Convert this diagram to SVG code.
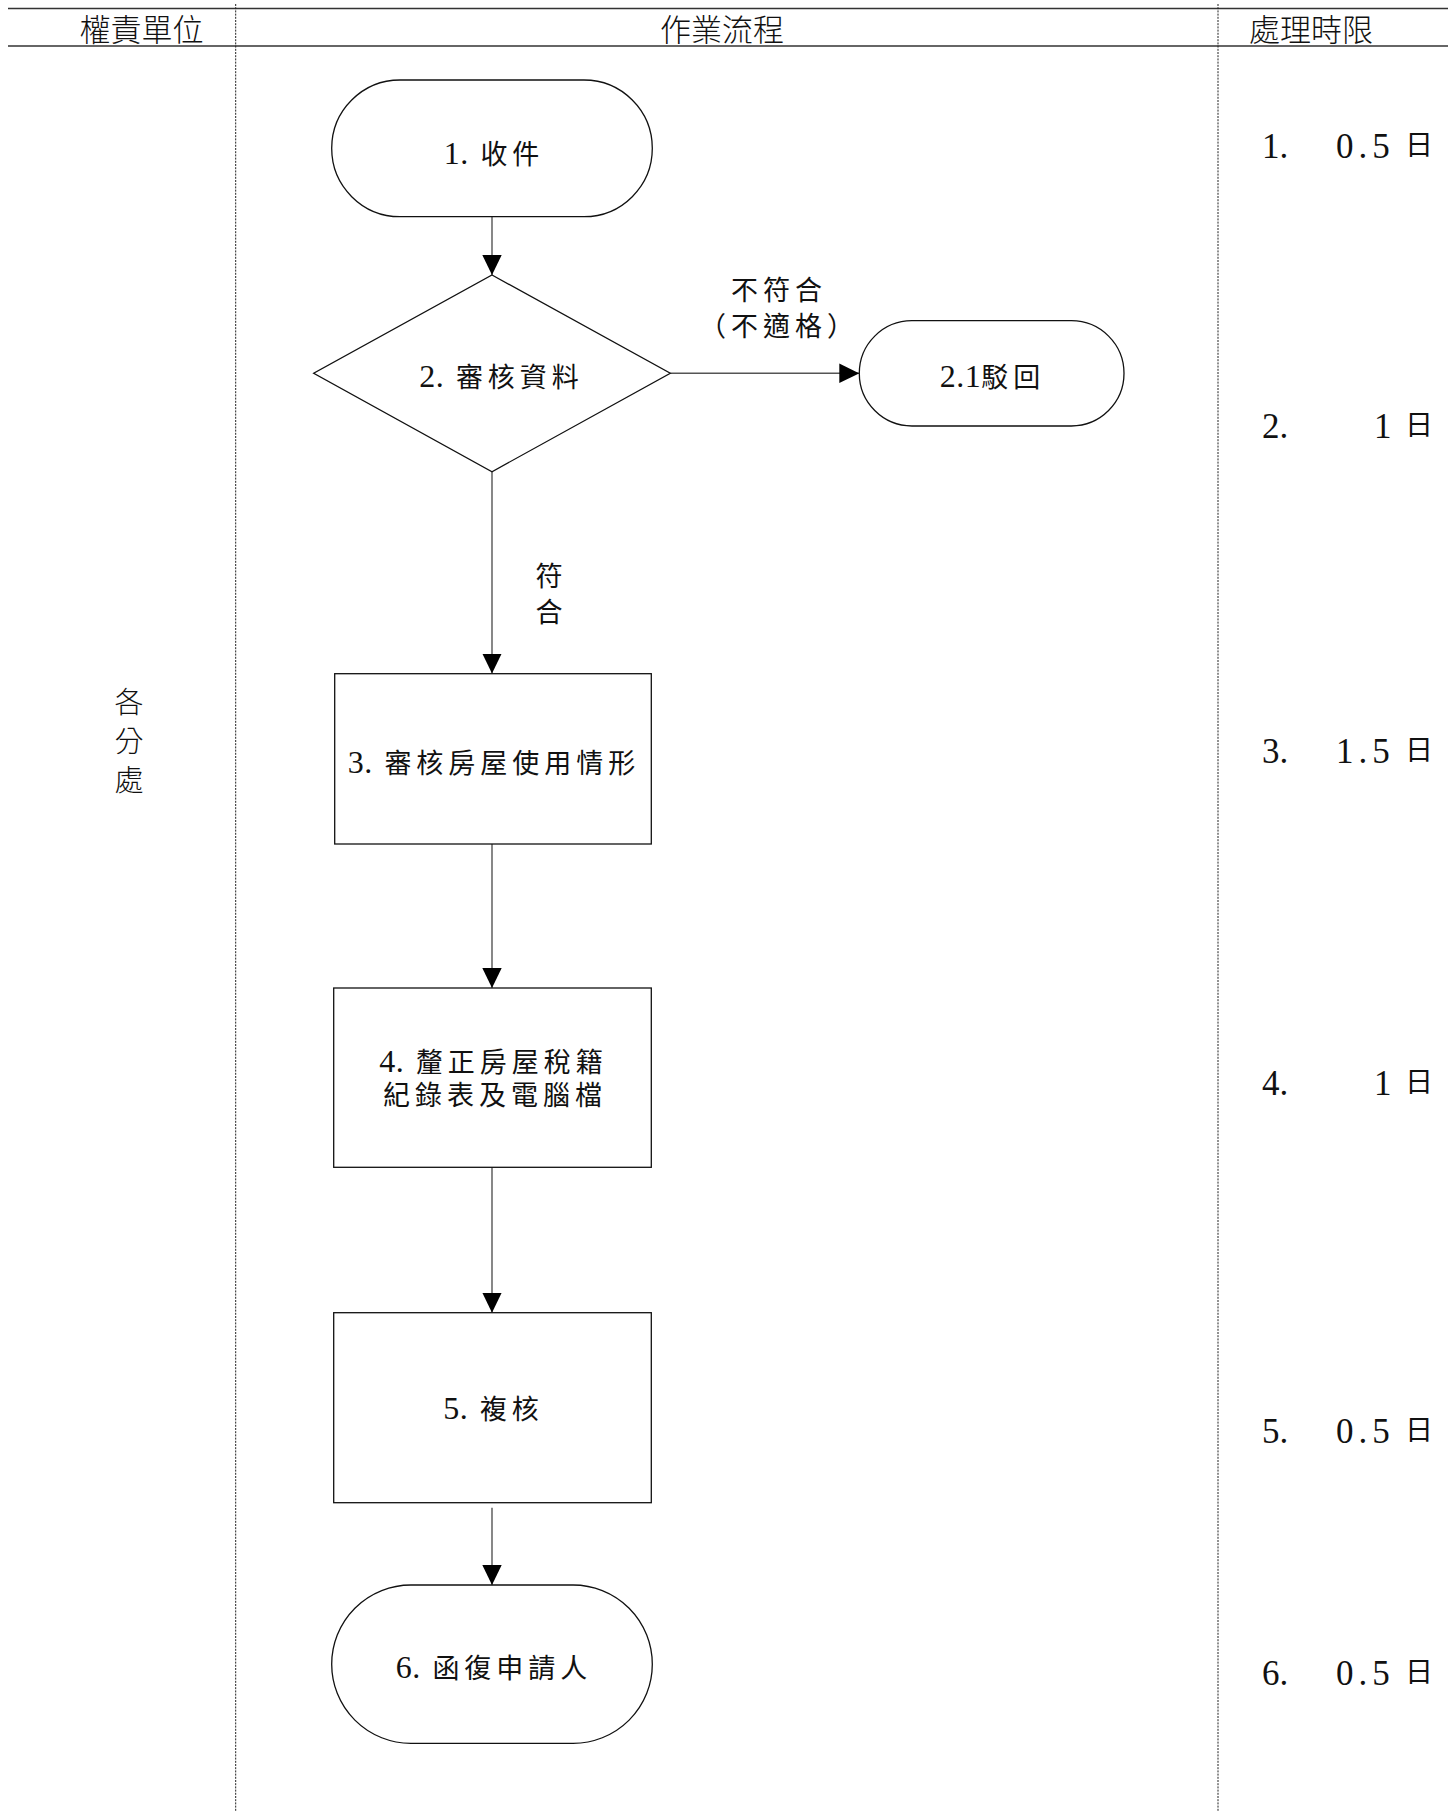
<svg xmlns="http://www.w3.org/2000/svg" width="1456" height="1811" viewBox="0 0 1456 1811">
<style>
.bg{fill:#fff}
.hline{stroke:#333;stroke-width:1.6;fill:none}
.dash{stroke:#222;stroke-width:1;stroke-dasharray:2 1.2;fill:none}
.shape{fill:#fff;stroke:#111;stroke-width:1.3}
.conn{stroke:#555;stroke-width:1.4;fill:none}
.hd{font-family:"Noto Sans CJK TC","Noto Sans CJK SC",sans-serif;font-size:31px;font-weight:300;fill:#111;text-anchor:middle}
.lane{font-family:"Noto Sans CJK TC","Noto Sans CJK SC",sans-serif;font-size:29px;font-weight:300;fill:#111;text-anchor:middle}
.t{font-family:"Liberation Serif","Noto Sans CJK TC","Noto Sans CJK SC",serif;font-size:27px;letter-spacing:5px;fill:#111;text-anchor:middle}
.d{font-family:"Liberation Serif",serif;font-size:32px;letter-spacing:0.5px}
.num{font-family:"Liberation Serif",serif;font-size:35px;fill:#111}
.val{font-family:"Liberation Serif",serif;font-size:35px;letter-spacing:5px;fill:#111}
.day{font-family:"Noto Sans CJK TC","Noto Sans CJK SC",sans-serif;font-size:28px;fill:#111}
</style>
<defs>
<marker id="arr" viewBox="0 0 20 20" markerWidth="20" markerHeight="20" refX="20" refY="10" orient="auto" markerUnits="userSpaceOnUse">
<path d="M0,0.3 L20,10 L0,19.7 Z" fill="#000"/>
</marker>
</defs>
<rect class="bg" x="0" y="0" width="1456" height="1811"/>
<g id="frame">
<line class="hline" x1="8" y1="8.5" x2="1448" y2="8.5"/>
<line class="hline" x1="8" y1="46" x2="1448" y2="46"/>
<line class="dash" x1="235.7" y1="4" x2="235.7" y2="1811"/>
<line class="dash" x1="1218" y1="4" x2="1218" y2="1811"/>
<text class="hd" x="141.5" y="41">權責單位</text>
<text class="hd" x="722" y="41">作業流程</text>
<text class="hd" x="1311" y="41">處理時限</text>
</g>
<g id="lane-label">
<text class="lane" x="129" y="713">各</text>
<text class="lane" x="129" y="752">分</text>
<text class="lane" x="129" y="791">處</text>
</g>
<g id="connectors">
<line class="conn" x1="492" y1="216.7" x2="492" y2="275" marker-end="url(#arr)"/>
<line class="conn" x1="670.3" y1="373.3" x2="859.3" y2="373.3" marker-end="url(#arr)"/>
<line class="conn" x1="492" y1="471.7" x2="492" y2="673.5" marker-end="url(#arr)"/>
<line class="conn" x1="492" y1="844" x2="492" y2="988" marker-end="url(#arr)"/>
<line class="conn" x1="492" y1="1167.3" x2="492" y2="1312.7" marker-end="url(#arr)"/>
<line class="conn" x1="492" y1="1507.7" x2="492" y2="1585" marker-end="url(#arr)"/>
<text class="t" x="779" y="300">不符合</text>
<text class="t" x="779" y="336">（不適格）</text>
<text class="t" x="551.5" y="586">符</text>
<text class="t" x="551.5" y="622">合</text>
</g>
<g id="n1">
<rect class="shape" x="331.7" y="80" width="320.6" height="136.7" rx="68.35" ry="68.35"/>
<text class="t" x="494" y="164"><tspan class="d">1.</tspan> 收件</text>
</g>
<g id="n2">
<polygon class="shape" points="492,275 670.3,373.3 492,471.7 313.7,373.3"/>
<text class="t" x="501.5" y="387"><tspan class="d">2.</tspan> 審核資料</text>
</g>
<g id="n2-1">
<rect class="shape" x="859.3" y="320.7" width="264.7" height="105.3" rx="52.65" ry="52.65"/>
<text class="t" x="992.5" y="387"><tspan class="d">2.1</tspan>駁回</text>
</g>
<g id="n3">
<rect class="shape" x="334.7" y="673.7" width="316.6" height="170.3"/>
<text class="t" x="494" y="773"><tspan class="d">3.</tspan> 審核房屋使用情形</text>
</g>
<g id="n4">
<rect class="shape" x="333.7" y="988" width="317.6" height="179.3"/>
<text class="t" x="493.5" y="1072"><tspan class="d">4.</tspan> 釐正房屋稅籍</text>
<text class="t" x="495" y="1105">紀錄表及電腦檔</text>
</g>
<g id="n5">
<rect class="shape" x="333.7" y="1312.7" width="317.6" height="190"/>
<text class="t" x="493.5" y="1419"><tspan class="d">5.</tspan> 複核</text>
</g>
<g id="n6">
<rect class="shape" x="331.7" y="1585" width="320.6" height="158.3" rx="79.15" ry="79.15"/>
<text class="t" x="494" y="1678"><tspan class="d">6.</tspan> 函復申請人</text>
</g>
<g id="times">
<text class="num" x="1262" y="158">1.</text><text class="val" x="1336" y="158">0.5</text><text class="day" x="1405" y="155">日</text>
<text class="num" x="1262" y="438">2.</text><text class="val" x="1374" y="438">1</text><text class="day" x="1405" y="435">日</text>
<text class="num" x="1262" y="763">3.</text><text class="val" x="1336" y="763">1.5</text><text class="day" x="1405" y="760">日</text>
<text class="num" x="1262" y="1095">4.</text><text class="val" x="1374" y="1095">1</text><text class="day" x="1405" y="1092">日</text>
<text class="num" x="1262" y="1443">5.</text><text class="val" x="1336" y="1443">0.5</text><text class="day" x="1405" y="1440">日</text>
<text class="num" x="1262" y="1685">6.</text><text class="val" x="1336" y="1685">0.5</text><text class="day" x="1405" y="1682">日</text>
</g>
</svg>
